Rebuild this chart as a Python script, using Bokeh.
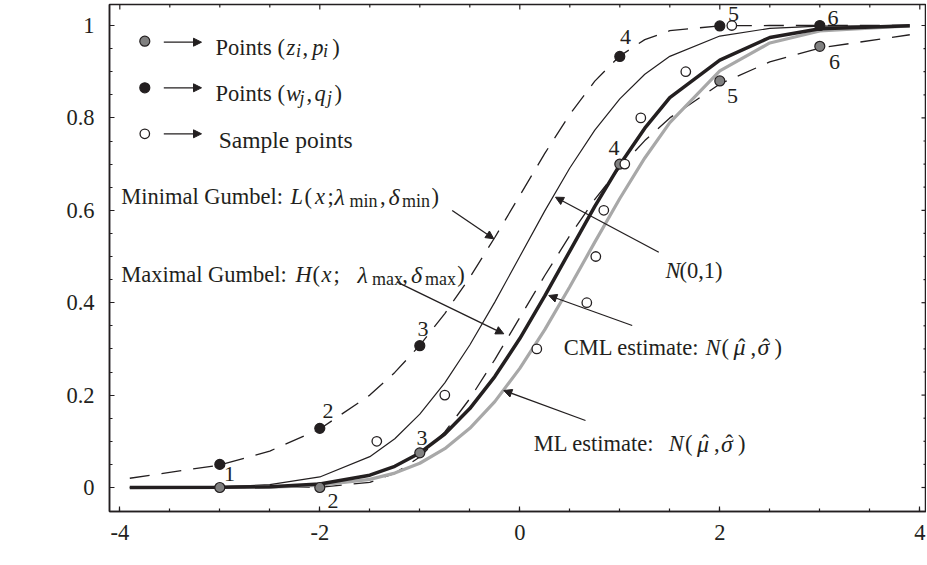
from bokeh.plotting import figure
from bokeh.models import Label, Arrow, NormalHead, FixedTicker, Range1d
from bokeh.core.properties import value
from bokeh.embed import file_html
from bokeh.resources import INLINE

# ---------------- data ----------------
curve_x = [-3.9, -3.0, -2.5, -2.0, -1.5, -1.25, -1.0, -0.75, -0.5, -0.25, 0.0,
           0.25, 0.5, 0.75, 1.0, 1.25, 1.5, 2.0, 2.5, 3.0, 3.9]
min_gumbel = [0.0200, 0.0486, 0.0788, 0.1266, 0.2000, 0.2491, 0.3078, 0.3765, 0.4548, 0.5411, 0.6321,
              0.7231, 0.8077, 0.8796, 0.9340, 0.9695, 0.9887, 0.9994, 1.0000, 1.0000, 1.0000]
max_gumbel = [0.0000, 0.0000, 0.0000, 0.0006, 0.0113, 0.0305, 0.0660, 0.1204, 0.1923, 0.2769, 0.3679,
              0.4589, 0.5452, 0.6235, 0.6922, 0.7509, 0.8000, 0.8734, 0.9212, 0.9514, 0.9800]
std_normal = [0.0000, 0.0013, 0.0062, 0.0228, 0.0668, 0.1056, 0.1587, 0.2266, 0.3085, 0.4013, 0.5000,
              0.5987, 0.6915, 0.7734, 0.8413, 0.8944, 0.9332, 0.9772, 0.9938, 0.9987, 1.0000]
cml_estimate = [0.0000, 0.0003, 0.0018, 0.0077, 0.0267, 0.0459, 0.0748, 0.1158, 0.1708, 0.2401, 0.3224,
                0.4146, 0.5118, 0.6083, 0.6985, 0.7778, 0.8437, 0.9250, 0.9740, 0.9930, 0.9996]
ml_estimate = [0.0000, 0.0002, 0.0010, 0.0048, 0.0176, 0.0312, 0.0525, 0.0840, 0.1280, 0.1859, 0.2578,
               0.3417, 0.4345, 0.5311, 0.6255, 0.7133, 0.7899, 0.9017, 0.9622, 0.9882, 0.9991]

z_i = [-3, -2, -1, 1, 2, 3]
p_i = [0.0, 0.0, 0.075, 0.70, 0.88, 0.955]
w_j = [-3, -2, -1, 1, 2, 3]
q_j = [0.05, 0.128, 0.307, 0.933, 0.999, 1.0]
sample_x = [-1.43, -0.75, 0.17, 0.67, 0.76, 0.84, 1.05, 1.21, 1.66, 2.12]
sample_y = [0.1, 0.2, 0.3, 0.4, 0.5, 0.6, 0.7, 0.8, 0.9, 1.0]

gray_nums = ["", "2", "3", "4", "5", "6"]
black_nums = ["1", "2", "3", "4", "5", "6"]

x_ticks = [-4, -2, 0, 2, 4]
x_tick_labels = ["-4", "-2", "0", "2", "4"]
x_minor = [-4, -3.5, -3, -2.5, -2, -1.5, -1, -0.5, 0, 0.5, 1, 1.5, 2, 2.5, 3, 3.5, 4]
y_ticks = [0, 0.2, 0.4, 0.6, 0.8, 1.0]
y_tick_labels = ["0", "0.2", "0.4", "0.6", "0.8", "1"]
y_minor = [0, 0.05, 0.1, 0.15, 0.2, 0.25, 0.3, 0.35, 0.4, 0.45, 0.5,
           0.55, 0.6, 0.65, 0.7, 0.75, 0.8, 0.85, 0.9, 0.95, 1.0]

# ---------------- layout helpers (picture pixels -> data) ----------------
X0_PX, XS = 519.3, 100.0
Y0_PX, YS = 487.0, 462.0
def px2x(px):
    return (px - X0_PX) / XS
def py2y(py):
    return (Y0_PX - py) / YS

FONT = "Liberation Serif"
FS = "22.5px"
SUB = "18px"
GR = "24px"
INK = "#231f20"

W, H = 926, 565
FL, FR, FT, FB = 109, 926, 4, 511
XL, XR = px2x(FL), px2x(FR)
YB, YT = py2y(FB), py2y(FT)

p = figure(width=W, height=H,
           x_range=Range1d(XL, XR), y_range=Range1d(YB, YT),
           output_backend="svg", toolbar_location=None,
           min_border_left=FL, min_border_right=W - FR, min_border_top=FT, min_border_bottom=H - FB,
           background_fill_color="white", border_fill_color="white")
p.grid.visible = False
p.outline_line_color = INK
p.outline_line_width = 1.5

for ax in (p.xaxis[0], p.yaxis[0]):
    ax.axis_line_color = INK
    ax.axis_line_width = 1.5
    ax.major_tick_in = 5
    ax.major_tick_out = 0
    ax.minor_tick_in = 3
    ax.minor_tick_out = 0
    ax.major_tick_line_color = INK
    ax.minor_tick_line_color = INK
    ax.major_tick_line_width = 1.2
    ax.minor_tick_line_width = 1.2
    ax.major_label_text_font = FONT
    ax.major_label_text_font_size = FS
    ax.major_label_text_color = INK
p.xaxis.ticker = FixedTicker(ticks=x_ticks, minor_ticks=x_minor)
p.yaxis.ticker = FixedTicker(ticks=y_ticks, minor_ticks=y_minor)
p.xaxis.major_label_overrides = dict(zip(x_ticks, x_tick_labels))
p.yaxis.major_label_overrides = dict(zip(y_ticks, y_tick_labels))
p.xaxis.major_label_standoff = 13
p.yaxis.major_label_standoff = 15

# ticks on the top and right frame edges (inward, no labels)
tlen_top = [(5 if v in x_ticks else 3) / YS for v in x_minor]
p.segment(x0=x_minor, y0=[YT] * len(x_minor), x1=x_minor,
          y1=[YT - t for t in tlen_top], line_color=INK, line_width=1.2)
tlen_right = [(5 if v in y_ticks else 3) / XS for v in y_minor]
p.segment(x0=[XR] * len(y_minor), y0=y_minor, x1=[XR - t for t in tlen_right],
          y1=y_minor, line_color=INK, line_width=1.2)

# ---------------- curves ----------------
p.line(curve_x, min_gumbel, line_color=INK, line_width=1.3, line_dash="20 12")
p.line(curve_x, max_gumbel, line_color=INK, line_width=1.3, line_dash="20 12")
p.line(curve_x, std_normal, line_color=INK, line_width=1.2)
p.line(curve_x, ml_estimate, line_color="#a8a8a8", line_width=3.2)
p.line(curve_x, cml_estimate, line_color=INK, line_width=3.5)

# ---------------- points ----------------
p.scatter(z_i, p_i, size=10, fill_color="#808080", line_color=INK, line_width=1.2)
p.scatter(w_j, q_j, size=10, fill_color=INK, line_color=INK, line_width=1.2)
p.scatter(sample_x, sample_y, size=9.5, fill_color="white", line_color=INK, line_width=1.3)

black_dx = [9.7, 8.2, 3.2, 5.7, 13.7, 13.2]
black_dy = [9.6, -17.4, -16.9, -19.5, -11.5, -7.5]
gray_dx = [0, 13.2, 2.2, -5.8, 12.7, 14.7]
gray_dy = [0, 13.5, -14.8, -16.1, 15.1, 15.7]
p.text(w_j, q_j, text=black_nums, x_offset=black_dx, y_offset=black_dy,
       text_align="center", text_baseline="middle", text_font=value(FONT),
       text_font_size="22px", text_color=INK)
p.text(z_i, p_i, text=gray_nums, x_offset=gray_dx, y_offset=gray_dy,
       text_align="center", text_baseline="middle", text_font=value(FONT),
       text_font_size="22px", text_color=INK)

# ---------------- rich text helper ----------------
def rich(runs, base_py, size=FS, sub_size=SUB):
    for run in runs:
        txt, kind, px = run[:3]
        sub = kind in ("s", "si")
        fs = run[3] if len(run) > 3 else (sub_size if sub else size)
        p.add_layout(Label(
            x=px2x(px), y=py2y(base_py + (4 if sub else 0)), text=txt,
            text_font=FONT, text_font_size=fs,
            text_font_style="italic" if kind in ("i", "si") else "normal",
            text_color=INK, text_align="left", text_baseline="alphabetic"))

def arrow(x0, y0, x1, y1):
    p.add_layout(Arrow(end=NormalHead(size=8, fill_color=INK, line_color=INK, line_width=1),
                       x_start=px2x(x0), y_start=py2y(y0), x_end=px2x(x1), y_end=py2y(y1),
                       line_color=INK, line_width=1.3))

# legend (manual)
LEG_X = 144.3
leg_rows = [40.7, 87.3, 133.3]
p.scatter([px2x(LEG_X)], [py2y(leg_rows[0])], size=10, fill_color="#808080", line_color=INK, line_width=1.2)
p.scatter([px2x(LEG_X)], [py2y(leg_rows[1])], size=10, fill_color=INK, line_color=INK, line_width=1.2)
p.scatter([px2x(LEG_X)], [py2y(leg_rows[2])], size=9.5, fill_color="white", line_color=INK, line_width=1.3)
for ry in [41.7, 87.3, 133.3]:
    arrow(163.3, ry, 201, ry)
rich([("Points (", "r", 215), ("z", "i", 286), ("i", "si", 295.5), (",", "r", 302),
      ("p", "i", 311.7), ("i", "si", 322.5), (")", "r", 331.7)], 46.5)
rich([("Points (", "r", 215), ("w", "i", 285.5), ("j", "si", 299), (",", "r", 306),
      ("q", "i", 314), ("j", "si", 326.5), (")", "r", 334)], 93)
rich([("Sample points", "r", 218.3)], 139.5, size="23.5px")

# curve annotations
rich([("Minimal Gumbel:", "r", 120.7), ("L", "i", 290), ("(", "r", 304), ("x", "i", 314.5),
      (";", "r", 327), ("\u03bb", "i", 334, GR), ("min", "s", 349), (",", "r", 379.5),
      ("\u03b4", "i", 388, GR), ("min", "s", 401.5), (")", "r", 431)], 196)
arrow(451.7, 210, 493.3, 238.3)

rich([("Maximal Gumbel:", "r", 120.7), ("H", "i", 295), ("(", "r", 312), ("x", "i", 321),
      (";", "r", 333), ("\u03bb", "i", 357, GR), ("max", "s", 371.5), (",", "r", 401.7),
      ("\u03b4", "i", 410.5, GR), ("max", "s", 424.5), (")", "r", 456.7)], 274)
arrow(396.7, 281.7, 503.3, 333.3)

rich([("N", "i", 665), ("(0,1)", "r", 679)], 270)
arrow(658.3, 251.7, 555, 196.7)

rich([("CML estimate:", "r", 563.3), ("N", "i", 705), ("(", "r", 721),
      ("\u03bc", "i", 733, GR), ("\u02c6", "r", 737.5), (",", "r", 750),
      ("\u03c3", "i", 757, GR), ("\u02c6", "r", 761.5), (")", "r", 774)], 346.7)
arrow(631.7, 325, 548.3, 295)

rich([("ML estimate:", "r", 533.3), ("N", "i", 668.3), ("(", "r", 684.5),
      ("\u03bc", "i", 696.5, GR), ("\u02c6", "r", 701), (",", "r", 713.5),
      ("\u03c3", "i", 720.5, GR), ("\u02c6", "r", 725), (")", "r", 737.5)], 443.3)
arrow(585, 420, 503.3, 390)

# axis titles
rich([("F", "i", 22), ("(", "r", 35), ("x", "i", 42), (")", "r", 51)], 256, size="22px")
rich([("x", "i", 507)], 552)

open("out.html", "w").write(file_html(p, INLINE))
